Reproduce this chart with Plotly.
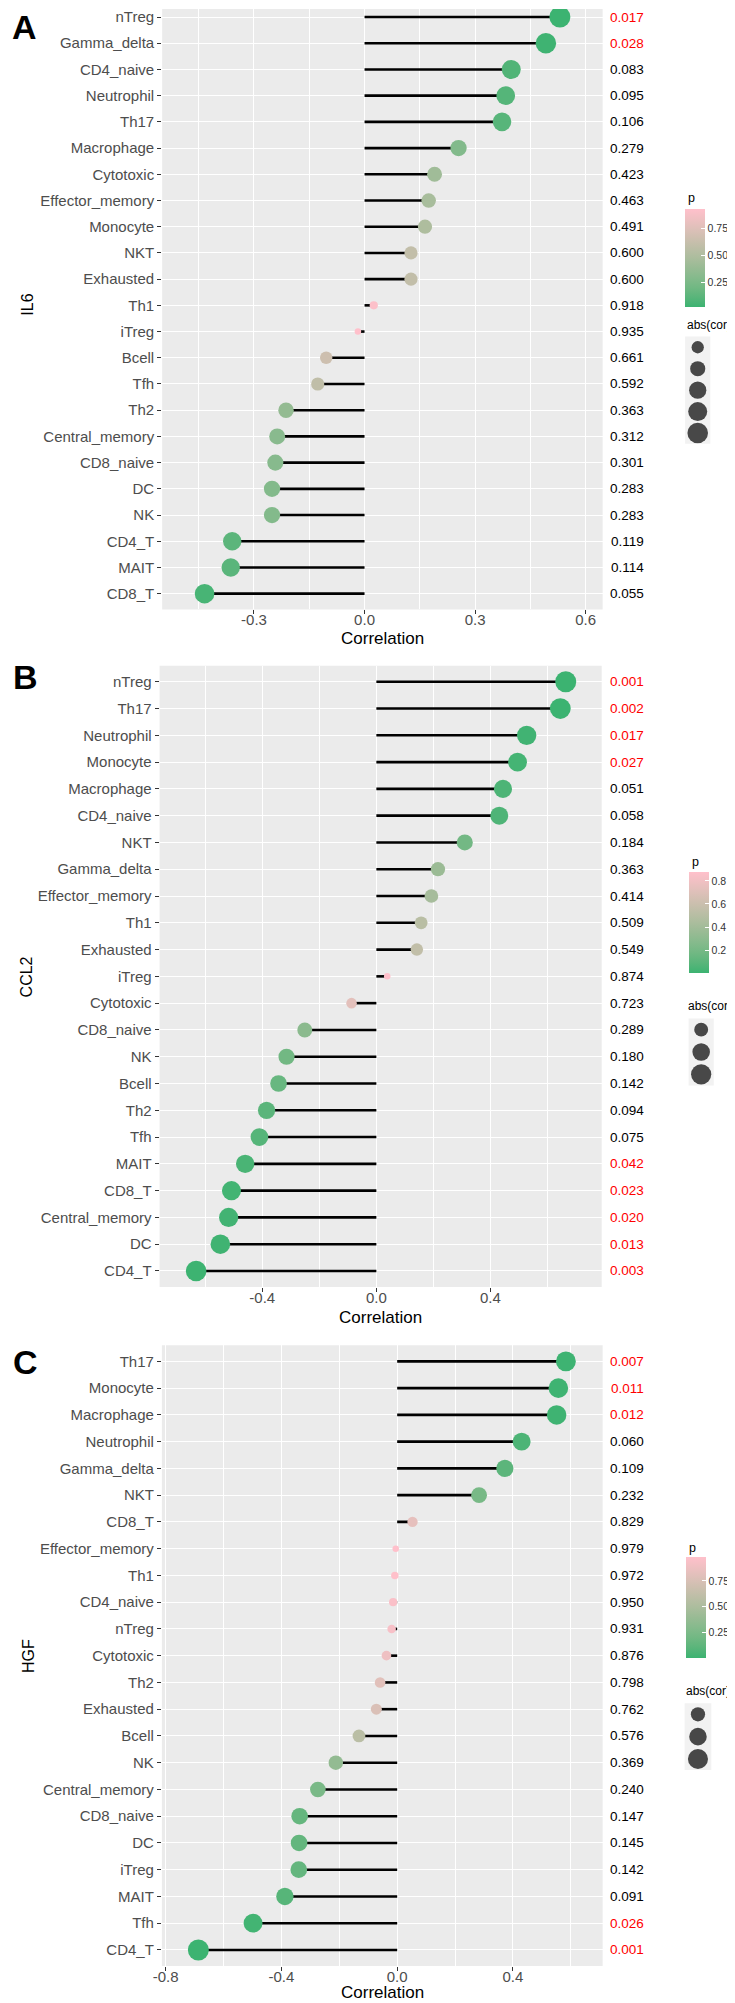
import numpy as np
import plotly.graph_objects as go

# ---------------- data ----------------
il6_cells = ["nTreg", "Gamma_delta", "CD4_naive", "Neutrophil", "Th17", "Macrophage", "Cytotoxic",
             "Effector_memory", "Monocyte", "NKT", "Exhausted", "Th1", "iTreg", "Bcell", "Tfh", "Th2",
             "Central_memory", "CD8_naive", "DC", "NK", "CD4_T", "MAIT", "CD8_T"]
il6_cor = [0.530, 0.492, 0.398, 0.383, 0.373, 0.255, 0.190, 0.174, 0.164, 0.126, 0.126, 0.025, -0.018,
           -0.104, -0.127, -0.213, -0.237, -0.242, -0.251, -0.251, -0.359, -0.363, -0.434]
il6_p = [0.017, 0.028, 0.083, 0.095, 0.106, 0.279, 0.423, 0.463, 0.491, 0.600, 0.600, 0.918, 0.935,
         0.661, 0.592, 0.363, 0.312, 0.301, 0.283, 0.283, 0.119, 0.114, 0.055]

ccl2_cells = ["nTreg", "Th17", "Neutrophil", "Monocyte", "Macrophage", "CD4_naive", "NKT", "Gamma_delta",
              "Effector_memory", "Th1", "Exhausted", "iTreg", "Cytotoxic", "CD8_naive", "NK", "Bcell", "Th2",
              "Tfh", "MAIT", "CD8_T", "Central_memory", "DC", "CD4_T"]
ccl2_cor = [0.664, 0.645, 0.527, 0.495, 0.444, 0.431, 0.310, 0.216, 0.193, 0.157, 0.142, 0.038, -0.087,
            -0.251, -0.315, -0.343, -0.385, -0.410, -0.460, -0.508, -0.518, -0.547, -0.632]
ccl2_p = [0.001, 0.002, 0.017, 0.027, 0.051, 0.058, 0.184, 0.363, 0.414, 0.509, 0.549, 0.874, 0.723,
          0.289, 0.180, 0.142, 0.094, 0.075, 0.042, 0.023, 0.020, 0.013, 0.003]

hgf_cells = ["Th17", "Monocyte", "Macrophage", "Neutrophil", "Gamma_delta", "NKT", "CD8_T", "Effector_memory",
             "Th1", "CD4_naive", "nTreg", "Cytotoxic", "Th2", "Exhausted", "Bcell", "NK", "Central_memory",
             "CD8_naive", "DC", "iTreg", "MAIT", "Tfh", "CD4_T"]
hgf_cor = [0.583, 0.557, 0.551, 0.430, 0.372, 0.283, 0.053, -0.005, -0.008, -0.014, -0.019, -0.037, -0.059,
           -0.072, -0.132, -0.212, -0.274, -0.337, -0.339, -0.340, -0.388, -0.498, -0.687]
hgf_p = [0.007, 0.011, 0.012, 0.060, 0.109, 0.232, 0.829, 0.979, 0.972, 0.950, 0.931, 0.876, 0.798,
         0.762, 0.576, 0.369, 0.240, 0.147, 0.145, 0.142, 0.091, 0.026, 0.001]

genes = ["IL6", "CCL2", "HGF"]
letters = ["A", "B", "C"]
x_ticks = [[-0.3, 0.0, 0.3, 0.6], [-0.4, 0.0, 0.4], [-0.8, -0.4, 0.0, 0.4]]
p_ticks = [[0.25, 0.50, 0.75], [0.2, 0.4, 0.6, 0.8], [0.25, 0.50, 0.75]]
size_breaks = [[0.1, 0.2, 0.3, 0.4, 0.5], [0.2, 0.4, 0.6], [0.2, 0.4, 0.6]]

# ---------------- layout constants (screen pixels of the target page) ----------------
# the html body has an 8px margin, so the figure is drawn smaller and offset
OFF = 8
W, H = 735 - OFF, 2003 - OFF
panels = [
    dict(x0=155, x1=601, y0=0.3, y1=608.7, xr=[-0.549, 0.646], minor=0.15,
         cb=(684, 208, 98), ptitle=(685, 197), leg=(684.5, 710, 335.7, 443), legtitle=(684, 324),
         ytitle=(19, 304), xtitle=637.7, letter=(16, 26)),
    dict(x0=152.4, x1=600, y0=665, y1=1286.7, xr=[-0.760, 0.790], minor=0.2,
         cb=(688, 871.7, 101), ptitle=(689, 861), leg=(688, 713.5, 1018, 1085), legtitle=(685, 1006),
         ytitle=(18, 976), xtitle=1316.7, letter=(17, 676)),
    dict(x0=154.7, x1=601, y0=1345, y1=1966, xr=[-0.813, 0.710], minor=0.2,
         cb=(685, 1557, 101), ptitle=(686, 1548), leg=(684, 711, 1703, 1770), legtitle=(683, 1691),
         ytitle=(19, 1656), xtitle=1992, letter=(17, 1362)),
]

# ---------------- colour scale (Lab interpolation, like ggplot) ----------------
def _lin(c):
    c = c / 255.0
    return c / 12.92 if c <= 0.04045 else ((c + 0.055) / 1.055) ** 2.4

def _gam(c):
    c = 12.92 * c if c <= 0.0031308 else 1.055 * c ** (1 / 2.4) - 0.055
    return int(round(min(max(c, 0), 1) * 255))

def rgb2lab(rgb):
    r, g, b = [_lin(v) for v in rgb]
    X = (0.4124 * r + 0.3576 * g + 0.1805 * b) / 0.95047
    Y = (0.2126 * r + 0.7152 * g + 0.0722 * b)
    Z = (0.0193 * r + 0.1192 * g + 0.9505 * b) / 1.08883
    f = lambda t: t ** (1 / 3) if t > 0.008856 else 7.787 * t + 16 / 116
    fx, fy, fz = f(X), f(Y), f(Z)
    return (116 * fy - 16, 500 * (fx - fy), 200 * (fy - fz))

def lab2rgb(lab):
    L, a, b = lab
    fy = (L + 16) / 116
    fx = fy + a / 500
    fz = fy - b / 200
    finv = lambda t: t ** 3 if t ** 3 > 0.008856 else (t - 16 / 116) / 7.787
    X, Y, Z = finv(fx) * 0.95047, finv(fy), finv(fz) * 1.08883
    r = 3.2406 * X - 1.5372 * Y - 0.4986 * Z
    g = -0.9689 * X + 1.8758 * Y + 0.0415 * Z
    bb = 0.0557 * X - 0.2040 * Y + 1.0570 * Z
    return "rgb(%d,%d,%d)" % (_gam(r), _gam(g), _gam(bb))

low, high = rgb2lab((60, 179, 113)), rgb2lab((255, 192, 203))
colorscale = []
for i in range(11):
    t = i / 10
    colorscale.append([t, lab2rgb(tuple(low[k] + (high[k] - low[k]) * t for k in range(3)))])

# ---------------- figure ----------------
fig = go.Figure()
layout = dict(width=W, height=H, margin=dict(l=0, r=0, t=0, b=0, pad=0), paper_bgcolor="white",
              plot_bgcolor="rgba(0,0,0,0)", showlegend=False, font=dict(family="Liberation Sans, Arial"))
shapes, annotations = [], []

def px_x(v):
    return min(max((v - OFF) / W, 0), 1)

def px_y(v):
    return min(max(1 - (v - OFF) / H, 0), 1)

datasets = [(il6_cells, il6_cor, il6_p), (ccl2_cells, ccl2_cor, ccl2_p), (hgf_cells, hgf_cor, hgf_p)]

for i, ((cells, cor, p), pan) in enumerate(zip(datasets, panels)):
    n = i + 1
    sfx = "" if n == 1 else str(n)
    xa, ya = "x" + sfx, "y" + sfx
    cor_a = np.array(cor)
    p_a = np.array(p)
    absc = np.abs(cor_a)
    amin, amax = absc.min(), absc.max()

    def dsize(v, amin=amin, amax=amax):
        t = np.clip((np.asarray(v) - amin) / (amax - amin), 0, 1)
        return 6.5 + 14.5 * np.sqrt(t)

    # segments
    sx, sy = [], []
    for c, v in zip(cells, cor):
        sx += [0, v, None]
        sy += [c, c, None]
    fig.add_trace(go.Scatter(x=sx, y=sy, mode="lines", line=dict(color="black", width=2.6),
                             xaxis=xa, yaxis=ya, hoverinfo="skip"))
    cax = "coloraxis" + sfx
    fig.add_trace(go.Scatter(x=cor, y=cells, mode="markers",
                             marker=dict(size=dsize(absc), color=p, coloraxis=cax, line=dict(width=0),
                                         opacity=1),
                             xaxis=xa, yaxis=ya))

    nc = len(cells)
    # discrete axis: rows 0..nc-1, expanded by 0.6 on both sides; clip the top to the page
    spacing = (pan["y1"] - pan["y0"]) / (nc - 1 + 1.2)
    y_top = max(pan["y0"], OFF)
    r_top = -0.6 + (y_top - pan["y0"]) / spacing
    layout["xaxis" + sfx] = dict(domain=[px_x(pan["x0"]), px_x(pan["x1"])], range=pan["xr"],
                                 anchor=ya, tickvals=x_ticks[i], ticktext=["%.1f" % v for v in x_ticks[i]],
                                 showgrid=True, gridcolor="white", gridwidth=1.4, zeroline=False,
                                 ticks="outside", ticklen=4, tickwidth=1.1, tickcolor="#333333",
                                 ticklabelstandoff=-7,
                                 tickfont=dict(size=15, color="#4D4D4D"), showline=False,
                                 minor=dict(dtick=pan["minor"], tick0=0, showgrid=True,
                                            gridcolor="white", gridwidth=0.7, ticks=""))
    layout["yaxis" + sfx] = dict(domain=[px_y(pan["y1"]), px_y(y_top)], range=[nc - 1 + 0.6, r_top],
                                 anchor=xa, type="category", categoryorder="array", categoryarray=cells,
                                 showgrid=True, gridcolor="white", gridwidth=1.4, zeroline=False,
                                 ticks="outside", ticklen=4, tickwidth=1.1, tickcolor="#333333",
                                 tickfont=dict(size=15, color="#4D4D4D"), showline=False)
    shapes.append(dict(type="rect", xref=xa + " domain", yref=ya + " domain", x0=0, x1=1, y0=0, y1=1,
                       fillcolor="#EBEBEB", line=dict(width=0), layer="below"))

    cbx, cby, cblen = pan["cb"]
    layout[cax] = dict(cmin=p_a.min(), cmax=p_a.max(), colorscale=colorscale,
                       colorbar=dict(x=px_x(cbx), xanchor="left", xpad=0, y=px_y(cby), yanchor="top", ypad=0,
                                     len=cblen, lenmode="pixels", thickness=20, thicknessmode="pixels",
                                     outlinewidth=0, tickvals=p_ticks[i],
                                     ticktext=["%.2f" % v if i != 1 else "%.1f" % v for v in p_ticks[i]],
                                     ticks="inside", ticklen=4, tickcolor="white", tickwidth=1,
                                     tickfont=dict(size=10.5, color="#333333")))
    annotations.append(dict(text="p", x=px_x(pan["ptitle"][0]), y=px_y(pan["ptitle"][1]), xref="paper",
                            yref="paper", xanchor="left", yanchor="middle", showarrow=False,
                            font=dict(size=12.5, color="black")))

    # p-value labels
    for c, pv in zip(cells, p):
        annotations.append(dict(text="%.3f" % pv, x=px_x(626), y=c, xref="paper", yref=ya,
                                xanchor="center", yanchor="middle", showarrow=False,
                                font=dict(size=13.5, color="#FF0000" if pv < 0.05 else "black")))

    # axis titles / panel letter
    annotations.append(dict(text=genes[i], x=px_x(pan["ytitle"][0]), y=px_y(pan["ytitle"][1]), xref="paper",
                            yref="paper", textangle=-90, showarrow=False, xanchor="center", yanchor="middle",
                            font=dict(size=16, color="black")))
    annotations.append(dict(text="Correlation", x=px_x((pan["x0"] + pan["x1"]) / 2), y=px_y(pan["xtitle"]),
                            xref="paper", yref="paper", showarrow=False, xanchor="center", yanchor="middle",
                            font=dict(size=17, color="black")))
    annotations.append(dict(text="<b>%s</b>" % letters[i], x=px_x(pan["letter"][0]), y=px_y(pan["letter"][1]),
                            xref="paper", yref="paper", showarrow=False, xanchor="center", yanchor="middle",
                            font=dict(size=34, color="black", family="Liberation Sans, Arial")))

    # size legend
    lx0, lx1, ly0, ly1 = pan["leg"]
    k = 3 + n
    lxa, lya = "x%d" % k, "y%d" % k
    br = size_breaks[i]
    nb = len(br)
    fig.add_trace(go.Scatter(x=[0] * nb, y=list(range(nb)), mode="markers",
                             marker=dict(size=dsize(br), color="black", line=dict(width=0)),
                             xaxis=lxa, yaxis=lya, hoverinfo="skip"))
    fig.add_trace(go.Scatter(x=[1.1] * nb, y=list(range(nb)), mode="text", text=[str(b) for b in br],
                             textposition="middle right", textfont=dict(size=10.5, color="#333333"),
                             cliponaxis=False, xaxis=lxa, yaxis=lya, hoverinfo="skip"))
    layout["xaxis%d" % k] = dict(domain=[px_x(lx0), px_x(lx1)], range=[-1, 1], visible=False, anchor=lya,
                                 fixedrange=True)
    layout["yaxis%d" % k] = dict(domain=[px_y(ly1), px_y(ly0)], range=[nb - 0.5, -0.5], visible=False,
                                 anchor=lxa, fixedrange=True)
    shapes.append(dict(type="rect", xref=lxa + " domain", yref=lya + " domain", x0=0, x1=1, y0=0, y1=1,
                       fillcolor="#F2F2F2", line=dict(width=0), layer="below"))
    annotations.append(dict(text="abs(cor)", x=px_x(pan["legtitle"][0]), y=px_y(pan["legtitle"][1]),
                            xref="paper", yref="paper", xanchor="left", yanchor="middle", showarrow=False,
                            font=dict(size=12, color="black")))

layout["shapes"] = shapes
layout["annotations"] = annotations
fig.update_layout(**layout)
fig.write_html("out.html")
